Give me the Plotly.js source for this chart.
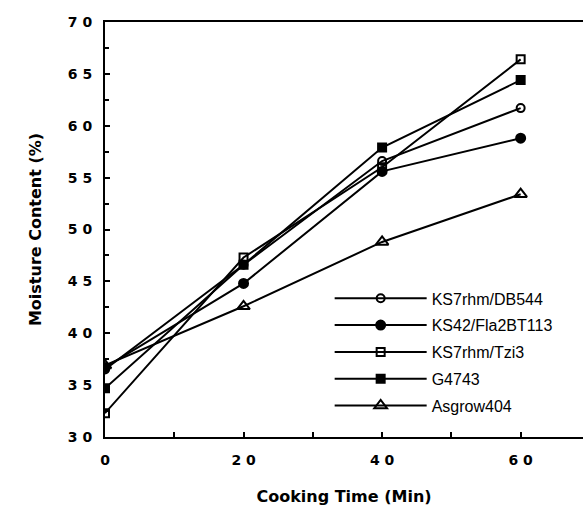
<!DOCTYPE html>
<html>
<head>
<meta charset="utf-8">
<script src="https://cdn.plot.ly/plotly-3.0.1.min.js"></script>
<style>html,body{margin:0;padding:0;background:#fff;}#chart{width:583px;height:508px;}</style>
</head>
<body>
<div id="chart"></div>
<script>
const cookingTime = [0, 20, 40, 60];
const seriesNames = ["KS7rhm/DB544", "KS42/Fla2BT113", "KS7rhm/Tzi3", "G4743", "Asgrow404"];
const ks7rhmDB544 = [36.5, 46.6, 56.6, 61.7];
const ks42Fla2BT113 = [36.7, 44.8, 55.6, 58.8];
const ks7rhmTzi3 = [32.3, 47.3, 56.0, 66.4];
const g4743 = [34.7, 46.6, 57.9, 64.4];
const asgrow404 = [36.9, 42.6, 48.8, 53.4];
const yTickVals = [30, 35, 40, 45, 50, 55, 60, 65, 70];
const yTickText = ["3 0", "3 5", "4 0", "4 5", "5 0", "5 5", "6 0", "6 5", "7 0"];
const xTickVals = [0, 10, 20, 30, 40, 50, 60];
const xTickText = ["0", "", "2 0", "", "4 0", "", "6 0"];

const values = [ks7rhmDB544, ks42Fla2BT113, ks7rhmTzi3, g4743, asgrow404];
const symbols = ["circle-open", "circle", "square-open", "square", "triangle-up-open"];
const sizes = [8, 9, 8, 8, 11];

const traces = values.map((v, i) => ({
  x: cookingTime, y: v, name: seriesNames[i], type: "scatter", mode: "lines+markers",
  legendgroup: "g" + i,
  line: {color: "#000", width: 2},
  marker: {symbol: symbols[i], size: sizes[i], color: "#000",
           line: {color: "#000", width: 2}}
}));

const tickFont = {family: "DejaVu Sans, Liberation Sans, sans-serif", size: 14, color: "#000", weight: "bold"};
const titleFont = {family: "DejaVu Sans, Liberation Sans, sans-serif", size: 16, color: "#000", weight: "bold"};

const layout = {
  width: 583, height: 508,
  margin: {l: 105, r: 0, t: 22, b: 71},
  paper_bgcolor: "#fff", plot_bgcolor: "#fff",
  showlegend: true,
  legend: {x: 0.47, y: 0.375, xanchor: "left", yanchor: "top", bgcolor: "rgba(0,0,0,0)",
           font: {family: "Liberation Sans, Arial, sans-serif", size: 16, color: "#000"},
           tracegroupgap: 3, itemwidth: 92},
  xaxis: {
    range: [0, 69], showgrid: false, zeroline: false,
    showline: true, linecolor: "#000", linewidth: 2, mirror: true,
    ticks: "inside", ticklen: 5, tickwidth: 2, tickcolor: "#000",
    tickvals: xTickVals, ticktext: xTickText, tickfont: tickFont, ticklabelstandoff: 9,
    title: {text: "Cooking Time (Min)", font: titleFont, standoff: 24}
  },
  yaxis: {
    range: [30, 70], showgrid: false, zeroline: false,
    showline: true, linecolor: "#000", linewidth: 2,
    ticks: "inside", ticklen: 5, tickwidth: 2, tickcolor: "#000",
    tickvals: yTickVals, ticktext: yTickText, tickfont: tickFont, ticklabelstandoff: 8,
    minor: {tickvals: [32.5, 37.5, 42.5, 47.5, 52.5, 57.5, 62.5, 67.5], ticks: "inside", ticklen: 4, tickwidth: 2, tickcolor: "#000"},
    title: {text: "Moisture Content (%)", font: titleFont, standoff: 22}
  }
};

Plotly.newPlot("chart", traces, layout, {staticPlot: true, displayModeBar: false});
</script>
</body>
</html>
